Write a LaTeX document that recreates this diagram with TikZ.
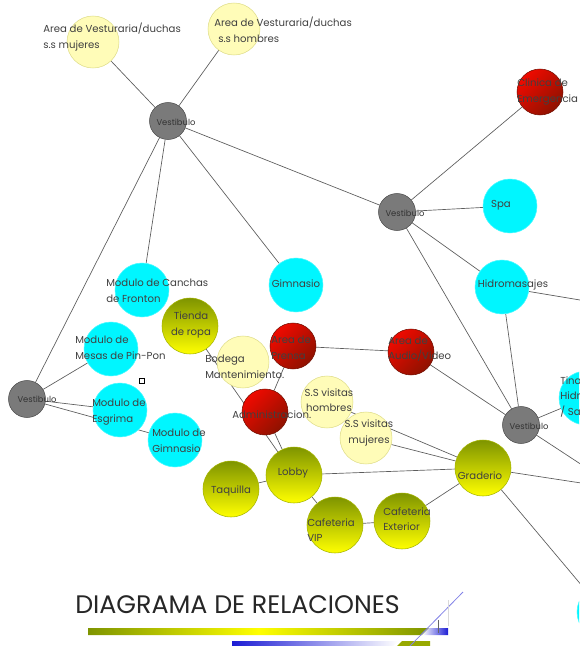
\documentclass[tikz,border=0pt]{standalone}
\usepackage{fontspec}
\setmainfont{Poppins}
\usepackage{xcolor}
\usepackage{tikz}
\usetikzlibrary{backgrounds}
\definecolor{salacyan}{HTML}{00F6FF}
\definecolor{salagris}{HTML}{7A7A7A}
\definecolor{salarojo}{HTML}{F00A00}
\definecolor{salaoscuro}{HTML}{8E1200}
\definecolor{salaolivo}{HTML}{7E9400}
\definecolor{salaamarillo}{HTML}{FFFF00}
\definecolor{salapalido}{HTML}{FFFCB8}
\definecolor{lineagris}{HTML}{5C5C5C}
\definecolor{barraazul}{HTML}{1C1CD4}
\tikzset{
  sala/.style={circle,inner sep=0pt,line width=0.4pt},
  cyansala/.style={sala,minimum size=40.5pt,fill=salacyan,draw=salacyan!70!white},
  rojosala/.style={sala,minimum size=34.5pt,top color=salarojo,bottom color=salaoscuro,shading angle=45,draw=salaoscuro!80!black},
  olivosala/.style={sala,minimum size=42pt,top color=salaolivo,bottom color=salaamarillo,draw=salaolivo!70!yellow},
  palidosala/.style={sala,minimum size=39pt,fill=salapalido,draw=salapalido!75!olive},
  vestsala/.style={sala,minimum size=27.75pt,fill=salagris,draw=black!70},
  rotulo/.style={inner sep=0pt,align=left,anchor=west,text=black!75,font=\fontsize{7.6}{11.6}\selectfont},
  rotulovest/.style={inner sep=0pt,text=black!80,font=\fontsize{6.3}{7.5}\selectfont},
  enlace/.style={draw=lineagris,line width=0.5pt},
}

\begin{document}
\begin{tikzpicture}[x=0.75pt,y=-0.75pt]
  \useasboundingbox (0,0) rectangle (579,646);
  \clip (0,0) rectangle (579,646);
  % vestibulos
  \node[vestsala] (vA) at (168,121) {};
  \node[vestsala] (vB) at (397,212) {};
  \node[vestsala] (vC) at (521,425) {};
  \node[vestsala] (vD) at (27,399) {};
  % salas
  \node[palidosala] (vestMuj) at (93,42) {};
  \node[palidosala] (vestHom) at (234,29) {};
  \node[rojosala] (clinica) at (540,92) {};
  \node[cyansala] (spa) at (510,206) {};
  \node[cyansala] (hidro) at (502,287) {};
  \node[cyansala] (tina) at (586,398) {};
  \node[cyansala] (salaSur) at (604,612) {};
  \node[cyansala] (canchas) at (142,290) {};
  \node[cyansala] (gimnasio) at (296,285) {};
  \node[cyansala] (pinpon) at (111,349) {};
  \node[cyansala] (esgrima) at (120,410) {};
  \node[cyansala] (modGim) at (175,440) {};
  \node[olivosala] (tienda) at (190,326) {};
  \node[palidosala] (bodega) at (243,362) {};
  \node[rojosala] (prensa) at (293,346) {};
  \node[rojosala] (audio) at (411,352) {};
  \node[rojosala] (admin) at (265,412) {};
  \node[palidosala] (ssHom) at (327,402) {};
  \node[palidosala] (ssMuj) at (366,438) {};
  \node[olivosala] (lobby) at (294,475) {};
  \node[olivosala] (taquilla) at (231,489) {};
  \node[olivosala] (cafVip) at (335,525) {};
  \node[olivosala] (cafExt) at (402,521) {};
  \node[olivosala] (graderio) at (483,468) {};
  \node[draw=black,line width=0.5pt,minimum size=3.5pt,inner sep=0pt] (marca) at (142,381) {};
  \coordinate (fueraA) at (640,310);
  \coordinate (fueraB) at (640,503);
  \coordinate (fueraC) at (640,492);
  % enlaces
  \begin{scope}[on background layer]
    \path[enlace] (vA) -- (vestMuj) (vA) -- (vestHom) (vA) -- (vB)
      (vA) -- (canchas) (vA) -- (gimnasio) (vA) -- (vD);
    \path[enlace] (vB) -- (clinica) (vB) -- (spa) (vB) -- (hidro) (vB) -- (vC);
    \path[enlace] (hidro) -- (vC) (hidro) -- (fueraA) (vC) -- (tina)
      (vC) -- (fueraB) (audio) -- (vC);
    \path[enlace] (prensa) -- (audio) (prensa) -- (admin) (admin) -- (lobby)
      (tienda) -- (lobby);
    \path[enlace] (vD) -- (pinpon) (vD) -- (esgrima) (vD) -- (modGim);
    \path[enlace] (taquilla) -- (lobby) (lobby) -- (graderio) (lobby) -- (cafVip)
      (cafVip) -- (cafExt) (cafExt) -- (graderio);
    \path[enlace] (ssHom) -- (graderio) (ssMuj) -- (graderio)
      (graderio) -- (fueraC) (graderio) -- (salaSur);
  \end{scope}
  % rotulos
  \node[rotulovest] (tA) at (176,122) {Vestibulo};
  \node[rotulovest] (tB) at (405,213) {Vestibulo};
  \node[rotulovest] (tC) at (529,426) {Vestibulo};
  \node[rotulovest] (tD) at (37,399) {Vestibulo};
  \node[rotulo] (tVestMuj) at (43,37) {Area de Vesturaria/duchas\\s.s mujeres};
  \node[rotulo] (tVestHom) at (214,30) {Area de Vesturaria/duchas\\\hspace*{3pt}s.s hombres};
  \node[rotulo] (tClinica) at (517,92) {Clinica de\\Emergencia};
  \node[rotulo,anchor=center] (tSpa) at (501,205) {Spa};
  \node[rotulo,anchor=center] (tHidro) at (513,285) {Hidromasajes};
  \node[rotulo] (tTina) at (560,397) {Tina de\\Hidromasaje\\/ Sauna};
  \node[rotulo] (tCanchas) at (106,291) {Modulo de Canchas\\de Fronton};
  \node[rotulo,anchor=center] (tGimnasio) at (296,284) {Gimnasio};
  \node[rotulo,align=center,anchor=center] (tTienda) at (191,325) {Tienda\\de ropa};
  \node[rotulo] (tPinpon) at (75,348) {Modulo de\\Mesas de Pin-Pon};
  \node[rotulo] (tBodega) at (205,367) {Bodega\\Mantenimiento.};
  \node[rotulo] (tPrensa) at (271,348) {Area de\\Prensa};
  \node[rotulo] (tAudio) at (388,349) {Area de\\Audio/Video};
  \node[rotulo] (tAdmin) at (232,415) {Administracion.};
  \node[rotulo,align=center,anchor=center] (tSsHom) at (329,400) {S.S visitas\\hombres};
  \node[rotulo,align=center,anchor=center] (tSsMuj) at (369,433) {S.S visitas\\mujeres};
  \node[rotulo] (tEsgrima) at (92,412) {Modulo de\\Esgrima};
  \node[rotulo] (tModGim) at (152,441) {Modulo de\\Gimnasio};
  \node[rotulo,anchor=center] (tLobby) at (293,473) {Lobby};
  \node[rotulo,anchor=center] (tTaquilla) at (231,491) {Taquilla};
  \node[rotulo] (tCafVip) at (307,530) {Cafeteria\\VIP};
  \node[rotulo] (tCafExt) at (383,519) {Cafeteria\\Exterior};
  \node[rotulo,anchor=center] (tGraderio) at (480,476) {Graderio};
  % titulo y barras
  \node[inner sep=0pt,anchor=west,text=black!85,font=\fontsize{19}{22}\selectfont] (titulo) at (75,605) {DIAGRAMA DE RELACIONES};
  \shade[left color=salaolivo,right color=salaolivo,middle color=salaamarillo]
    (88,628) -- (429,628) -- (422,635) -- (88,635) -- cycle;
  \shade[left color=white,right color=barraazul] (429,628) -- (448,628) -- (448,635) -- (422,635) -- cycle;
  \shade[left color=barraazul,right color=white] (232,641) -- (398,641) -- (393,646) -- (232,646) -- cycle;
  \fill[salaolivo!80!salaamarillo] (402,641) -- (430,641) -- (430,646) -- (397,646) -- cycle;
  \draw[barraazul!55,line width=0.6pt] (410,646) -- (463,592);
  \draw[black!60,line width=0.4pt] (438,620) -- (438,633);
  \draw[black!15,line width=0.4pt] (448,600) -- (448,626);
\end{tikzpicture}
\end{document}
